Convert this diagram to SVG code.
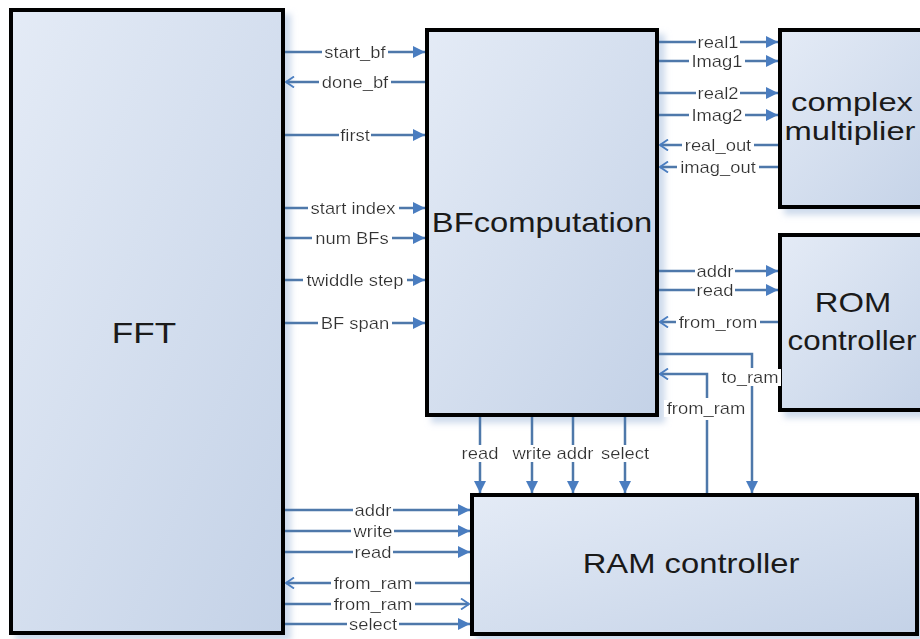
<svg xmlns="http://www.w3.org/2000/svg" width="920" height="639" viewBox="0 0 920 639">
<defs>
<linearGradient id="bg" x1="0" y1="0" x2="1" y2="1">
<stop offset="0" stop-color="#e4ebf6"/>
<stop offset="1" stop-color="#c4d2e7"/>
</linearGradient>
<filter id="sh" x="-5%" y="-5%" width="115%" height="115%">
<feDropShadow dx="6" dy="6" stdDeviation="3" flood-color="#b9cbe4" flood-opacity="0.7"/>
</filter>
<filter id="wb" x="-0.03" y="0.05" width="1.06" height="0.9">
<feFlood flood-color="#fff" result="bgf"/>
<feMerge><feMergeNode in="bgf"/><feMergeNode in="SourceGraphic"/></feMerge>
</filter>
<marker id="af" viewBox="0 0 12 12" refX="12" refY="6" markerWidth="13" markerHeight="12" orient="auto" markerUnits="userSpaceOnUse">
<path d="M0,0 L12,6 L0,12 z" fill="#4a7dc0"/>
</marker>
<marker id="ao" viewBox="0 0 10 12" refX="9" refY="6" markerWidth="10" markerHeight="12" orient="auto" markerUnits="userSpaceOnUse">
<path d="M1,0.5 L9,6 L1,11.5" fill="none" stroke="#4a7dc0" stroke-width="1.8"/>
</marker>
</defs>
<style>
.box{fill:url(#bg);stroke:#000;stroke-width:4;filter:url(#sh)}
.big{font-family:"Liberation Sans",Arial,sans-serif;font-size:28px;fill:#1a1a1a;text-anchor:middle}
.c{fill:none;stroke:#4e78aa;stroke-width:2.5}
.f{marker-end:url(#af)}
.o{marker-end:url(#ao)}
.lbl{font-family:"Liberation Sans",Arial,sans-serif;font-size:16px;fill:#333;text-anchor:middle;filter:url(#wb)}
</style>
<rect width="920" height="639" fill="#fff"/>

<g id="fft">
<rect class="box" x="11" y="10" width="272" height="623"/>
<text class="big" style="font-size:30px" transform="translate(144,343) scale(1.17,1)">FFT</text>
</g>
<g id="bfcomputation">
<rect class="box" x="427" y="30" width="230" height="385"/>
<text class="big" transform="translate(542,232) scale(1.17,1)">BFcomputation</text>
</g>
<g id="complex-multiplier">
<rect class="box" x="780" y="30" width="160" height="177"/>
<text class="big" style="font-size:26px" transform="translate(852,111) scale(1.26,1)">complex</text>
<text class="big" style="font-size:26px" transform="translate(850,140) scale(1.26,1)">multiplier</text>
</g>
<g id="rom-controller">
<rect class="box" x="780" y="235" width="160" height="175"/>
<text class="big" transform="translate(853,312) scale(1.17,1)">ROM</text>
<text class="big" transform="translate(852,350) scale(1.12,1)">controller</text>
</g>
<g id="ram-controller">
<rect class="box" x="472" y="495" width="445" height="139"/>
<text class="big" transform="translate(691,573) scale(1.17,1)">RAM controller</text>
</g>

<g id="connectors">
<path class="c f" d="M285,52 H425"/>
<path class="c o" d="M425,82 H286"/>
<path class="c f" d="M285,135 H425"/>
<path class="c f" d="M285,208 H425"/>
<path class="c f" d="M285,238 H425"/>
<path class="c f" d="M285,280 H425"/>
<path class="c f" d="M285,323 H425"/>
<path class="c f" d="M659,42 H778"/>
<path class="c f" d="M659,61 H778"/>
<path class="c f" d="M659,93 H778"/>
<path class="c f" d="M659,115 H778"/>
<path class="c o" d="M778,145 H660"/>
<path class="c o" d="M778,167 H660"/>
<path class="c f" d="M659,271 H778"/>
<path class="c f" d="M659,290 H778"/>
<path class="c o" d="M778,322 H660"/>
<path class="c" d="M659,354 H752 V368"/>
<path class="c f" d="M752,386 V493"/>
<path class="c" d="M707,493 V420"/>
<path class="c o" d="M707,398 V374 H660"/>
<path class="c f" d="M480,417 V493"/>
<path class="c f" d="M532,417 V493"/>
<path class="c f" d="M573,417 V493"/>
<path class="c f" d="M625,417 V493"/>
<path class="c f" d="M285,510 H470"/>
<path class="c f" d="M285,531 H470"/>
<path class="c f" d="M285,552 H470"/>
<path class="c o" d="M470,583 H286"/>
<path class="c o" d="M285,604 H469"/>
<path class="c f" d="M285,624 H470"/>

<text class="lbl" transform="translate(355,58) scale(1.15,1)">start_bf</text>
<text class="lbl" transform="translate(355,88) scale(1.15,1)">done_bf</text>
<text class="lbl" transform="translate(355,141) scale(1.15,1)">first</text>
<text class="lbl" transform="translate(353,214) scale(1.15,1)">start index</text>
<text class="lbl" transform="translate(352,244) scale(1.15,1)">num BFs</text>
<text class="lbl" transform="translate(355,286) scale(1.15,1)">twiddle step</text>
<text class="lbl" transform="translate(355,329) scale(1.15,1)">BF span</text>

<text class="lbl" transform="translate(718,48) scale(1.15,1)">real1</text>
<text class="lbl" transform="translate(717,67) scale(1.15,1)">Imag1</text>
<text class="lbl" transform="translate(718,99) scale(1.15,1)">real2</text>
<text class="lbl" transform="translate(717,121) scale(1.15,1)">Imag2</text>
<text class="lbl" transform="translate(718,151) scale(1.15,1)">real_out</text>
<text class="lbl" transform="translate(718,173) scale(1.15,1)">imag_out</text>

<text class="lbl" transform="translate(715,277) scale(1.15,1)">addr</text>
<text class="lbl" transform="translate(715,296) scale(1.15,1)">read</text>
<text class="lbl" transform="translate(718,328) scale(1.15,1)">from_rom</text>

<text class="lbl" transform="translate(750,383) scale(1.15,1)">to_ram</text>
<text class="lbl" transform="translate(706,414) scale(1.15,1)">from_ram</text>

<text class="lbl" transform="translate(480,459) scale(1.15,1)">read</text>
<text class="lbl" transform="translate(532,459) scale(1.15,1)">write</text>
<text class="lbl" transform="translate(575,459) scale(1.15,1)">addr</text>
<text class="lbl" transform="translate(625,459) scale(1.15,1)">select</text>

<text class="lbl" transform="translate(373,516) scale(1.15,1)">addr</text>
<text class="lbl" transform="translate(373,537) scale(1.15,1)">write</text>
<text class="lbl" transform="translate(373,558) scale(1.15,1)">read</text>
<text class="lbl" transform="translate(373,589) scale(1.15,1)">from_ram</text>
<text class="lbl" transform="translate(373,610) scale(1.15,1)">from_ram</text>
<text class="lbl" transform="translate(373,630) scale(1.15,1)">select</text>
</g>
</svg>
